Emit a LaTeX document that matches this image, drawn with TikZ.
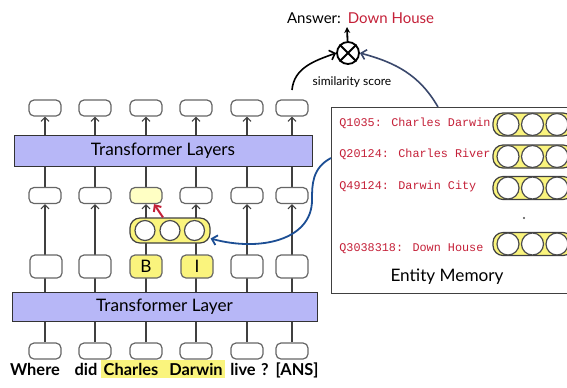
\documentclass[tikz,border=0pt]{standalone}
\usepackage{fontspec}
\setmainfont{Lato}
\newfontfamily\memfont{Liberation Mono}
\usetikzlibrary{arrows.meta,backgrounds}
\definecolor{layerblue}{RGB}{183,183,247}
\definecolor{tokyellow}{RGB}{250,244,125}
\definecolor{paleyellow}{RGB}{255,255,196}
\definecolor{memred}{RGB}{196,32,56}
\definecolor{linkblue}{RGB}{28,78,148}
\definecolor{linknavy}{RGB}{58,72,108}
\begin{document}
\begin{tikzpicture}[x=0.5pt, y=0.5pt,
    tok/.style={draw=black!60, line width=0.6pt, rounded corners=2.5pt, fill=white,
        minimum width=16pt, minimum height=8pt, inner sep=0pt,
        font=\fontsize{8.6}{10}\selectfont},
    tall/.style={tok, minimum height=11.5pt},
    stack/.style={draw=black!80, line width=0.5pt, fill=layerblue,
        font=\fontsize{8.6}{10}\selectfont},
    pill/.style={draw=black!75, line width=0.6pt, fill=tokyellow, rounded corners=5pt,
        minimum width=40pt, inner sep=0pt},
    slot/.style={circle, draw=black!70, line width=0.6pt, fill=white, inner sep=0pt},
    memtxt/.style={anchor=west, inner sep=0pt, text=memred,
        font=\memfont\fontsize{5.9}{7}\selectfont},
    word/.style={anchor=base, inner sep=1pt, font=\bfseries\fontsize{8.2}{10}\selectfont},
    flow/.style={draw=black!75, line width=0.55pt, -{Straight Barb[length=2pt,width=4pt]}},
    curvelink/.style={line width=0.8pt, -{Straight Barb[length=2.5pt,width=5pt]}},
]
    \useasboundingbox (0,0) rectangle (567,-387);
    \clip (0,0) rectangle (567,-387);

    \node[tok] (t1) at (45,-108) {};
    \node[tok] (t2) at (95,-108) {};
    \node[tok] (t3) at (146,-108) {};
    \node[tok] (t4) at (196,-108) {};
    \node[tok] (t5) at (247,-108) {};
    \node[tok] (t6) at (292,-108) {};
    \node[stack, minimum width=149pt, minimum height=15.5pt] (tl) at (163,-150.5) {Transformer Layers};

    \node[tok] (m1) at (45,-195.5) {};
    \node[tok] (m2) at (95,-195.5) {};
    \node[tok, fill=paleyellow] (m3) at (146,-195.5) {};
    \node[tok] (m4) at (196,-195.5) {};
    \node[tok] (m5) at (247,-195.5) {};
    \node[tok] (m6) at (292,-195.5) {};

    \node[pill, minimum height=12.5pt] (q) at (170,-230.5) {};
        \node[slot, minimum size=10pt] (q1) at (145,-230.5) {};
        \node[slot, minimum size=10pt] (q2) at (170,-230.5) {};
        \node[slot, minimum size=10pt] (q3) at (194.5,-230.5) {};

    \node[tall] (e1) at (46,-266.5) {};
    \node[tall] (e2) at (95,-266.5) {};
    \node[tall, fill=tokyellow] (e3) at (146,-266.5) {B};
    \node[tall, fill=tokyellow] (e4) at (197,-266.5) {I};
    \node[tall] (e5) at (247,-266.5) {};
    \node[tall] (e6) at (292,-266.5) {};
    \node[stack, minimum width=152.5pt, minimum height=14pt] (bl) at (164.5,-307) {Transformer Layer};

    \node[tok] (b1) at (45,-351) {};
    \node[tok] (b2) at (95,-351) {};
    \node[tok] (b3) at (146,-351) {};
    \node[tok] (b4) at (196,-351) {};
    \node[tok] (b5) at (247,-351) {};
    \node[tok] (b6) at (292,-351) {};

    \node[word] (w1) at (35,-375) {Where};
    \node[word] (w2) at (86,-375) {did};
    \node[word] (w3) at (131,-375) {Charles};
    \node[word] (w4) at (196,-375) {Darwin};
    \node[word] (w5) at (243,-375) {live};
    \node[word] (w6) at (265,-375) {?};
    \node[word] (w7) at (297,-375) {[ANS]};

    \begin{scope}[on background layer]
        \fill[tokyellow] (w3.north west) rectangle (w4.south east);
        \draw[flow] (b1) -- (m1);
        \draw[flow] (b2) -- (m2);
        \draw[flow] (b3) -- (m3);
        \draw[flow] (b4) -- (m4);
        \draw[flow] (b5) -- (m5);
        \draw[flow] (b6) -- (m6);
        \draw[flow] (m1) -- (t1);
        \draw[flow] (m2) -- (t2);
        \draw[flow] (m3) -- (t3);
        \draw[flow] (m4) -- (t4);
        \draw[flow] (m5) -- (t5);
        \draw[flow] (m6) -- (t6);
    \end{scope}

    \draw[memred, line width=1pt, -{Straight Barb[length=2.5pt,width=4.5pt]}] ([xshift=-3.5pt]q.north) -- ([xshift=4pt]m3.south);

    \node[draw=black!75, line width=0.5pt, minimum width=144.5pt, minimum height=93pt] (mem) at (475.5,-200) {};
    \node[memtxt] (n1) at (339,-123) {Q1035: Charles Darwin};
    \node[memtxt] (n2) at (339,-154) {Q20124: Charles River};
    \node[memtxt] (n3) at (339,-186) {Q49124: Darwin City};
    \node[memtxt] (n4) at (339,-249) {Q3038318: Down House};

    \node[pill, minimum height=11.5pt] (p1) at (533,-124.5) {};
        \node[slot, minimum size=11pt] (p1a) at (508,-124.5) {};
        \node[slot, minimum size=11pt] (p1b) at (532.5,-124.5) {};
        \node[slot, minimum size=11pt] (p1c) at (557,-124.5) {};
    \node[pill, minimum height=11.5pt] (p2) at (533,-156.5) {};
        \node[slot, minimum size=11pt] (p2a) at (508,-156.5) {};
        \node[slot, minimum size=11pt] (p2b) at (532.5,-156.5) {};
        \node[slot, minimum size=11pt] (p2c) at (557,-156.5) {};
    \node[pill, minimum height=11.5pt] (p3) at (533,-188) {};
        \node[slot, minimum size=11pt] (p3a) at (508,-188) {};
        \node[slot, minimum size=11pt] (p3b) at (532.5,-188) {};
        \node[slot, minimum size=11pt] (p3c) at (557,-188) {};
    \node[pill, minimum height=11.5pt] (p4) at (533,-244) {};
        \node[slot, minimum size=11pt] (p4a) at (508,-244) {};
        \node[slot, minimum size=11pt] (p4b) at (532.5,-244) {};
        \node[slot, minimum size=11pt] (p4c) at (557,-244) {};
    \fill[black!70] (524,-218) circle (0.6pt);
    \node[font=\fontsize{8.6}{10}\selectfont] (memlbl) at (447,-277) {Entity Memory};

    \coordinate (memin) at (331,-158);
    \draw[curvelink, linkblue, line width=0.9pt] (memin) .. controls (312,-168) and (312,-185) .. (312,-200)
        .. controls (312,-240) and (260,-252) .. ([yshift=-4pt]q.east);

    \node[circle, draw, line width=0.9pt, minimum size=11pt, inner sep=0pt] (sim) at (348,-53) {};
    \draw[line width=0.9pt] (sim.north east) -- (sim.south west) (sim.north west) -- (sim.south east);
    \node[font=\fontsize{6}{7}\selectfont] (simlbl) at (352,-82) {similarity score};
    \node[font=\fontsize{7.5}{9}\selectfont] (ans) at (314,-18) {Answer:};
    \node[font=\fontsize{7.5}{9}\selectfont, text=memred] (ansval) at (391,-18) {Down House};
    \coordinate (anstip) at (347,-27);
    \draw[line width=0.9pt, -{Stealth[length=3pt,width=3pt]}] (sim) -- (anstip);
    \coordinate (lastout) at (292,-90);
    \draw[curvelink] (lastout) to[out=85,in=200] (sim.west);
    \coordinate (memout) at (438,-107);
    \draw[curvelink, linknavy] (memout) to[out=120,in=-15] (sim.east);
\end{tikzpicture}
\end{document}
